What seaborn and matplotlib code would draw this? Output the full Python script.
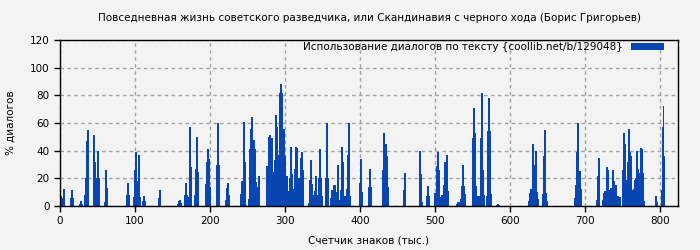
import numpy as np
import pandas as pd
import matplotlib
matplotlib.use("Agg")
import matplotlib.pyplot as plt
import seaborn as sns

title = "Повседневная жизнь советского разведчика, или Скандинавия с черного хода (Борис Григорьев)"
series_label = "Использование диалогов по тексту {coollib.net/b/129048}"
x_label = "Счетчик знаков (тыс.)"
y_label = "% диалогов"

# position in thousands of characters
positions = [
    1.3, 4, 5.3, 14.7, 16, 17.3, 26.7, 28, 29.3, 33.3, 34.7, 36, 37.3,
    45.3, 46.7, 48, 49.3, 50.7, 52, 60, 61.3, 62.7, 89.3, 90.7, 92,
    98.7, 100, 101.3, 104, 105.3, 106.7, 110.7, 112, 113.3, 132, 133.3,
    157.3, 158.7, 160, 161.3, 166.7, 168, 169.3, 172, 173.3, 174.7,
    180, 181.3, 182.7, 184, 194.7, 196, 197.3, 198.7, 200, 209.3, 210.7, 212,
    221.3, 222.7, 224, 225.3, 241.3, 242.7, 244, 245.3, 246.7, 248,
    252, 253.3, 254.7, 256, 257.3, 258.7, 260, 261.3, 262.7, 264, 265.3,
    276, 277.3, 278.7, 280, 281.3, 282.7, 284, 285.3, 286.7, 288, 289.3,
    290.7, 292, 293.3, 294.7, 296, 297.3, 298.7, 300, 301.3, 302.7, 304,
    305.3, 306.7, 308, 309.3, 310.7, 312, 313.3, 314.7, 316, 317.3, 318.7,
    320, 321.3, 322.7, 324, 332, 333.3, 334.7, 336, 337.3, 340, 341.3, 342.7,
    345.3, 346.7, 348, 349.3, 354.7, 356, 357.3, 361.3, 362.7, 364, 365.3,
    366.7, 368, 369.3, 370.7, 372, 373.3, 374.7, 376, 377.3, 378.7, 381.3,
    382.7, 384, 385.3, 386.7, 400, 401.3, 402.7,
    412, 413.3, 414.7, 430.7, 432, 433.3, 434.7, 436, 437.3, 458.7, 460,
    480, 481.3, 482.7, 489.3, 490.7, 492, 500, 502.7, 504, 505.3, 506.7,
    508, 509.3, 510.7, 512, 513.3, 514.7, 516, 517.3, 529.3, 530.7, 532,
    533.3, 534.7, 536, 537.3, 538.7, 540,
    550.7, 552, 553.3, 554.7, 556, 557.3, 560, 561.3, 562.7, 564, 565.3,
    569.3, 570.7, 572, 573.3, 574.7, 582.7, 584, 585.3, 625.3, 626.7, 628,
    629.3, 630.7, 632, 633.3, 634.7, 636, 637.3, 644, 645.3, 646.7, 648, 649.3,
    686.7, 688, 689.3, 690.7, 692, 693.3, 694.7, 716, 717.3, 718.7, 724,
    725.3, 726.7, 728, 729.3, 730.7, 732, 733.3, 734.7, 736, 737.3, 738.7,
    740, 741.3, 742.7, 744, 745.3, 746.7, 750.7, 752, 753.3, 754.7, 756,
    757.3, 758.7, 760, 761.3, 762.7, 764, 765.3, 766.7, 768, 769.3, 770.7,
    772, 773.3, 774.7, 776, 777.3, 778.7, 794.7, 796, 802, 803.3, 804.7, 806,
]
# percentage of dialogue
values = [
    7, 6, 12, 6, 11.5, 6, 1.5, 3.6, 1.5, 8, 20, 47, 55,
    51, 32, 6.5, 20, 40, 20, 3, 26, 13, 8, 16.5, 8,
    6.5, 26, 39, 18, 37, 6.5, 3.6, 7, 3.6, 6, 11.5,
    1.5, 3.6, 4.3, 2, 8, 16.5, 8, 6.5, 57, 28,
    8, 26.6, 50, 24.5, 16, 32, 41, 34, 13.7, 30, 60, 30,
    4.3, 13, 16.5, 8, 8.6, 18, 8.6, 61, 32, 0.7,
    5, 41, 56, 64, 44, 47.5, 41, 17, 3, 13.7, 21.6,
    29, 24.5, 50, 51, 24.5, 49, 24.5, 2, 33, 66, 57,
    37, 37, 82, 88, 82, 47.5, 56, 36, 11, 21.6, 11,
    10, 20, 42.5, 23, 3, 12, 26.6, 42.5, 41.7, 12, 20,
    3, 35, 39, 26, 2, 19, 33, 16, 8, 11, 21.6, 8,
    20, 41, 20, 7, 20, 60, 20, 6, 11.5, 6, 15,
    15, 5, 10, 30, 4.5, 4.3, 11.5, 43, 32, 7, 7,
    12, 37, 60, 7, 16.5, 34, 10,
    13.7, 27, 13.7, 26, 52.5, 26, 44.6, 36, 13.7, 11.5, 23.7,
    40, 23, 3, 7, 14.4, 7, 9.4, 29, 39, 26, 6.5,
    3.6, 8, 3.6, 15, 32, 26, 37, 11, 1.5, 3, 2,
    3, 5, 14.4, 29.5, 14.4, 8.6,
    49, 71, 52.5, 14.4, 7, 7, 7, 49, 82, 26, 8,
    7, 54, 78, 54, 8.6, 0.7, 1.5, 0.7, 3.6, 9.4, 12,
    8.6, 44.6, 30, 24.5, 39.6, 10, 5, 8.6, 36, 55, 9.4, 3.6,
    6, 15, 39, 60, 12, 25, 12, 4.3, 21.6, 35, 4.3,
    9.4, 11, 5, 28, 26, 11.5, 5, 13, 13, 26, 18,
    15, 15, 7, 7, 3.6, 6.5, 26, 52.5, 45, 19, 11,
    32, 56, 39, 36, 11.5, 8.6, 12, 19, 20, 40, 27,
    23.7, 15, 41.7, 41, 23.7, 3.6, 7, 3, 11.5, 57, 72.6, 36,
]

x_ticks = [0, 100, 200, 300, 400, 500, 600, 700, 800]
y_ticks = [0, 20, 40, 60, 80, 100, 120]

df = pd.DataFrame({"pos": positions, "val": values})

bg = "#f3f3f3"
bar_color = "#0a46b1"
fs = 7.5

sns.set_style("ticks")
plt.rcParams["font.family"] = ["DejaVu Sans"]
plt.rcParams["text.color"] = "black"
plt.rcParams["axes.labelcolor"] = "black"
plt.rcParams["xtick.color"] = "black"
plt.rcParams["ytick.color"] = "black"

fig = plt.figure(figsize=(7, 2.5), dpi=100, facecolor=bg)
ax = fig.add_axes([60 / 700, 1 - 206 / 250, 618 / 700, 166 / 250])
ax.set_facecolor(bg)

sns.barplot(data=df, x="pos", y="val", native_scale=True, width=1.08,
            errorbar=None, color=bar_color, saturation=1, linewidth=0,
            label=series_label, ax=ax)
for p in ax.patches:
    p.set_antialiased(False)

ax.set_xlim(0, 824)
ax.set_ylim(0, 120)
ax.set_xticks(x_ticks)
ax.set_xticklabels([str(t) for t in x_ticks])
ax.set_yticks(y_ticks)
ax.tick_params(axis="both", labelsize=fs, length=4, width=1, color="black",
               labelcolor="black", direction="out")
ax.grid(True, color="#a0a0a0", linestyle=(0, (2.5, 2.5)), linewidth=1)
ax.set_axisbelow(True)
for s in ax.spines.values():
    s.set_visible(True)
    s.set_color("black")
    s.set_linewidth(1)

ax.set_xlabel(x_label, fontsize=fs, color="black")
ax.set_ylabel(y_label, fontsize=fs, color="black")
ax.xaxis.set_label_coords(0.5, -0.18)
ax.yaxis.set_label_coords(-0.072, 0.5)

fig.text(369 / 700, 1 - 18 / 250, title, ha="center", va="center",
         fontsize=fs, color="black")

leg = ax.legend(loc="upper right", bbox_to_anchor=(0.984, 1.012),
                frameon=False, markerfirst=False, labelcolor="black",
                fontsize=fs, handlelength=3.2, handleheight=0.6,
                borderaxespad=0, handletextpad=0.7)

fig.savefig("out.png", dpi=100, facecolor=bg)
